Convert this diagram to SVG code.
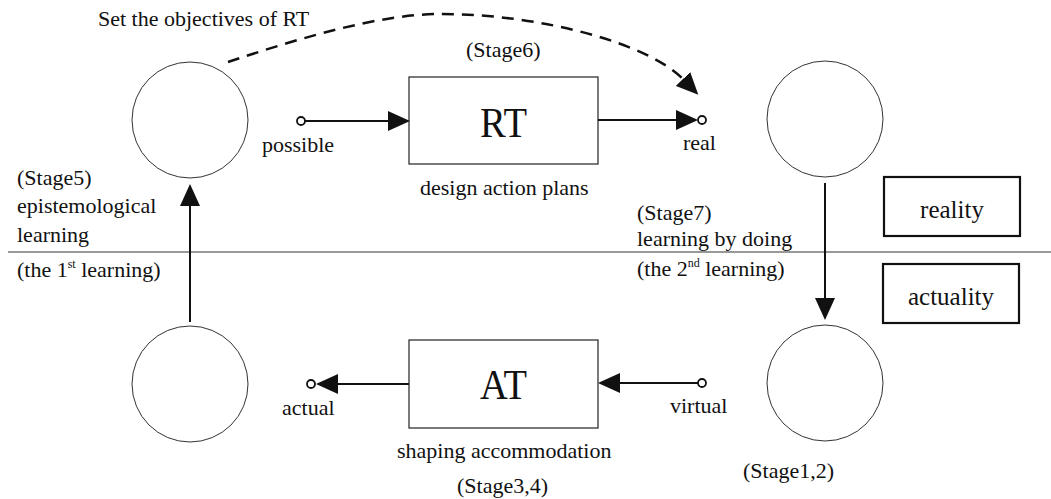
<svg xmlns="http://www.w3.org/2000/svg" width="1051" height="499" viewBox="0 0 1051 499" font-family="'Liberation Serif', 'DejaVu Serif', 'Times New Roman', serif">
<style>
text{font-family:"Liberation Serif","DejaVu Serif","Times New Roman",serif;fill:#111}
.lbl{font-size:22px}
.big{font-size:42px}
.st{font-size:25px}
.sup{font-size:12px}
.circ{fill:none;stroke:#333;stroke-width:1}
.box{fill:#fff;stroke:#222;stroke-width:1.2}
.sbox{fill:#fff;stroke:#111;stroke-width:2.2}
.conn{fill:none;stroke:#111;stroke-width:2}
.dash{fill:none;stroke:#111;stroke-width:2.5;stroke-dasharray:12 8}
.port{fill:#fff;stroke:#111;stroke-width:1.8}
</style>
<defs>
<marker id="ah" viewBox="0 -10 22 20" refX="0" refY="0" markerWidth="22" markerHeight="20" markerUnits="userSpaceOnUse" orient="auto">
<path d="M0,-10 L22,0 L0,10 z" fill="#111"/>
</marker>
</defs>
<line x1="8" y1="252" x2="1051" y2="252" stroke="#777" stroke-width="1.3"/>
<g id="circle-top-left"><circle class="circ" cx="190" cy="120" r="58"/></g>
<g id="circle-bottom-left"><circle class="circ" cx="190" cy="384" r="58"/></g>
<g id="circle-top-right"><circle class="circ" cx="825" cy="119" r="58"/></g>
<g id="circle-bottom-right"><circle class="circ" cx="825" cy="383" r="58"/></g>
<g id="node-RT"><rect class="box" x="409" y="77" width="189" height="87"/><text class="big" x="503.5" y="137" text-anchor="middle" textLength="47" lengthAdjust="spacingAndGlyphs">RT</text></g>
<g id="node-AT"><rect class="box" x="409" y="340" width="189" height="88"/><text class="big" x="503.5" y="399" text-anchor="middle" textLength="47" lengthAdjust="spacingAndGlyphs">AT</text></g>
<g id="node-reality"><rect class="sbox" x="884" y="177" width="136" height="59"/><text class="st" x="952" y="218" text-anchor="middle">reality</text></g>
<g id="node-actuality"><rect class="sbox" x="883" y="264" width="136" height="59"/><text class="st" x="951" y="305" text-anchor="middle">actuality</text></g>
<g id="connectors">
<path class="dash" d="M228,62 C300,38 380,14 440,14 C545,14 650,45 683,79" marker-end="url(#ah)"/>
<line class="conn" x1="305" y1="121" x2="388" y2="121" marker-end="url(#ah)"/>
<circle class="port" cx="301" cy="121" r="4"/>
<line class="conn" x1="598" y1="120" x2="676" y2="120" marker-end="url(#ah)"/>
<circle class="port" cx="702" cy="120" r="4"/>
<line class="conn" x1="698" y1="383" x2="620" y2="383" marker-end="url(#ah)"/>
<circle class="port" cx="702" cy="383" r="4"/>
<line class="conn" x1="409" y1="384" x2="338" y2="384" marker-end="url(#ah)"/>
<circle class="port" cx="311" cy="384" r="4"/>
<line class="conn" x1="190" y1="322" x2="190" y2="206" marker-end="url(#ah)"/>
<line class="conn" x1="825" y1="183" x2="825" y2="298" marker-end="url(#ah)"/>
</g>
<g id="labels" font-family="'Liberation Serif', 'DejaVu Serif', serif">
<text class="lbl" x="98" y="26">Set the objectives of RT</text>
<text class="lbl" x="466" y="57">(Stage6)</text>
<text class="lbl" x="262" y="152">possible</text>
<text class="lbl" x="683" y="150">real</text>
<text class="lbl" x="420" y="195">design action plans</text>
<text class="lbl" x="17" y="185">(Stage5)</text>
<text class="lbl" x="17" y="213">epistemological</text>
<text class="lbl" x="17" y="242">learning</text>
<text class="lbl" x="17" y="277">(the 1<tspan class="sup" dy="-9">st</tspan><tspan dy="9"> learning)</tspan></text>
<text class="lbl" x="637" y="220">(Stage7)</text>
<text class="lbl" x="637" y="246">learning by doing</text>
<text class="lbl" x="637" y="276">(the 2<tspan class="sup" dy="-9">nd</tspan><tspan dy="9"> learning)</tspan></text>
<text class="lbl" x="282" y="415">actual</text>
<text class="lbl" x="670" y="413">virtual</text>
<text class="lbl" x="397" y="458">shaping accommodation</text>
<text class="lbl" x="457" y="493">(Stage3,4)</text>
<text class="lbl" x="743" y="478">(Stage1,2)</text>
</g>
</svg>
